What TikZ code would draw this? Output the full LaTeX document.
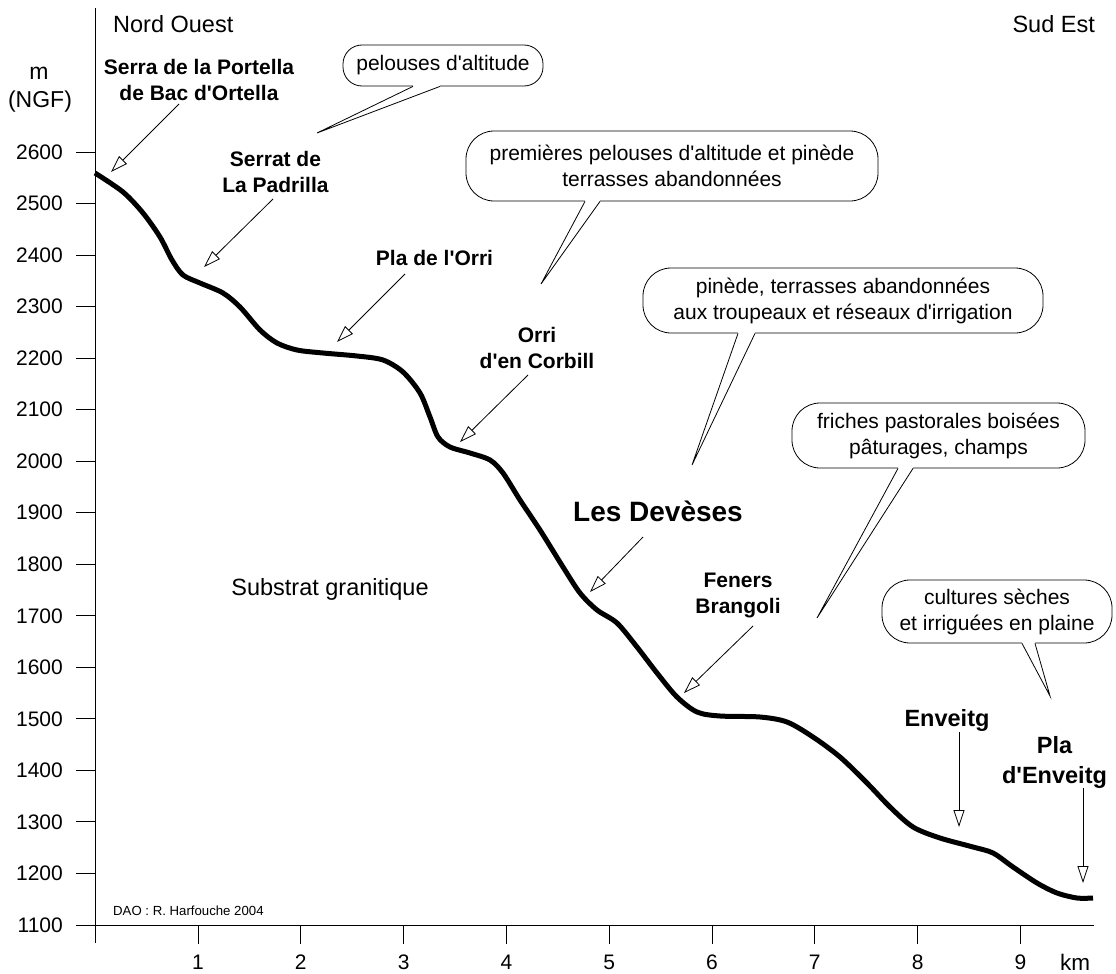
\documentclass[tikz,border=0pt]{standalone}
\usepackage{fontspec}
\setmainfont{Liberation Sans}
\usetikzlibrary{arrows.meta}
\newcommand\ap{\textquotesingle}
\newcommand\btail[4]{%
  \fill[white] ([xshift=#2pt,yshift=1.2pt]#1.south) rectangle ([xshift=#3pt,yshift=-1.2pt]#1.south);
  \draw[tail] ([xshift=#2pt]#1.south) -- (#4) -- ([xshift=#3pt]#1.south);}
\begin{document}
\begin{tikzpicture}[x=1pt,y=-1pt,
  ax/.style={line width=0.9pt},
  lab/.style={font=\bfseries\fontsize{21}{26}\selectfont, align=center, inner sep=0},
  txt/.style={font=\fontsize{21}{26}\selectfont, inner sep=0},
  bubble/.style={draw, line width=0.8pt, rounded corners=28pt, inner sep=0, align=center,
    font=\fontsize{21}{26}\selectfont, fill=white},
  ptr/.style={line width=0.8pt, -{Triangle[open,length=17pt,width=11pt]}},
  tail/.style={line width=0.8pt},
  prof/.style={line width=5pt}]
\useasboundingbox (0,0) rectangle (1116,974);
% axes
\draw[ax] (95,8) -- (95,943);
\draw[ax] (76,925) -- (1094,925);
\foreach \v in {1200,1300,...,2600}{
  \pgfmathsetmacro\yy{925-(\v-1100)*0.5153}
  \draw[ax] (76,\yy) -- (95,\yy);
}
\foreach \v in {1100,1200,...,2600}{
  \pgfmathsetmacro\yy{925-(\v-1100)*0.5153}
  \node[txt, anchor=east] (y\v) at (63,\yy) {\v};
}
\foreach \k in {1,...,9}{
  \pgfmathsetmacro\xx{95.2+\k*102.8}
  \draw[ax] (\xx,925) -- (\xx,944);
  \node[txt] (x\k) at (\xx,962) {\k};
}
\node[txt, font=\fontsize{22.5}{26}\selectfont] (km) at (1075,962) {km};
\node[txt, font=\fontsize{23}{27}\selectfont] (m) at (39,73) {m};
\node[txt, font=\fontsize{23}{27}\selectfont] (ngf) at (40,102) {(NGF)};
\node[txt, font=\fontsize{23.5}{27}\selectfont, anchor=west] (no) at (113,24) {Nord Ouest};
\node[txt, font=\fontsize{23.5}{27}\selectfont, anchor=east] (se) at (1095,24) {Sud Est};
\node[txt, font=\fontsize{23.5}{27}\selectfont] (sub) at (330,589) {Substrat granitique};
\node[txt, font=\fontsize{13.2}{16}\selectfont, anchor=west] (dao) at (113,911) {DAO : R. Harfouche 2004};
% profile
\draw[prof] plot[smooth, tension=0.5] coordinates {
(95,173) (123,192) (143,213) (160,237) (172,260) (183,275) (200,283) (223,293) (240,307)
(260,330) (277,343) (297,350) (323,353) (357,356) (383,360) (403,372) (420,393) (430,417)
(438,437) (450,447) (470,453) (490,460) (503,473) (520,500) (540,530) (563,567) (580,593)
(597,610) (617,623) (637,647) (657,673) (677,697) (697,712) (720,716) (760,717) (787,722)
(813,737) (840,757) (867,783) (890,807) (913,827) (940,838) (973,847) (993,853) (1013,867)
(1037,883) (1057,893) (1077,898) (1093,898)};
% place labels
\node[lab] (serra) at (199,80) {Serra de la Portella\\de Bac d\ap Ortella};
\node[lab] (serrat) at (275.5,172) {Serrat de\\La Padrilla};
\node[lab] (plaorri) at (434.5,258) {Pla de l\ap Orri};
\node[lab] (orri) at (537,348) {Orri\\d\ap en Corbill};
\node[lab, font=\bfseries\fontsize{28}{32}\selectfont] (dev) at (658,511) {Les Devèses};
\node[lab] (fen) at (738,595) {Feners\\Brangoli};
\node[lab, font=\bfseries\fontsize{23.5}{30}\selectfont] (env) at (947,720) {Enveitg};
\node[lab, font=\bfseries\fontsize{23.5}{30}\selectfont] (plaenv) at (1054.5,762) {Pla\\d\ap Enveitg};
% arrows
\coordinate (serraA) at (179,104); \coordinate (serraT) at (111,172);
\coordinate (serratA) at (273,199); \coordinate (serratT) at (204,267);
\coordinate (plaorriA) at (405,274); \coordinate (plaorriT) at (337,342);
\coordinate (orriA) at (528,375); \coordinate (orriT) at (460,442);
\coordinate (devA) at (643,537); \coordinate (devT) at (590,592);
\coordinate (fenA) at (753,626); \coordinate (fenT) at (684,693);
\coordinate (envA) at (959,732); \coordinate (envT) at (959,827);
\coordinate (plaenvA) at (1083,788); \coordinate (plaenvT) at (1083,883);
\draw[ptr] (serraA) -- (serraT);
\draw[ptr] (serratA) -- (serratT);
\draw[ptr] (plaorriA) -- (plaorriT);
\draw[ptr] (orriA) -- (orriT);
\draw[ptr] (devA) -- (devT);
\draw[ptr] (fenA) -- (fenT);
\draw[ptr] (envA) -- (envT);
\draw[ptr] (plaenvA) -- (plaenvT);
% callouts
\node[bubble, rounded corners=19pt, minimum width=200pt, minimum height=41pt] (c1) at (443,65.5) {pelouses d\ap altitude};
\coordinate (t1) at (317,133);
\btail{c1}{-30}{-3}{t1}
\node[bubble, minimum width=412pt, minimum height=70pt] (c2) at (672,166) {premières pelouses d\ap altitude et pinède\\terrasses abandonnées};
\coordinate (t2) at (541,284);
\btail{c2}{-87}{-72}{t2}
\node[bubble, minimum width=400pt, minimum height=65pt] (c3) at (843,300.5) {pinède, terrasses abandonnées\\aux troupeaux et réseaux d\ap irrigation};
\coordinate (t3) at (692,465);
\btail{c3}{-105}{-88}{t3}
\node[bubble, minimum width=293pt, minimum height=65pt] (c4) at (938.5,435.5) {friches pastorales boisées\\pâturages, champs};
\coordinate (t4) at (817,618);
\btail{c4}{-40.5}{-25.5}{t4}
\node[bubble, minimum width=230pt, minimum height=63pt] (c5) at (997,611.5) {cultures sèches\\et irriguées en plaine};
\coordinate (t5) at (1050,696);
\btail{c5}{25}{38}{t5}
\end{tikzpicture}
\end{document}
